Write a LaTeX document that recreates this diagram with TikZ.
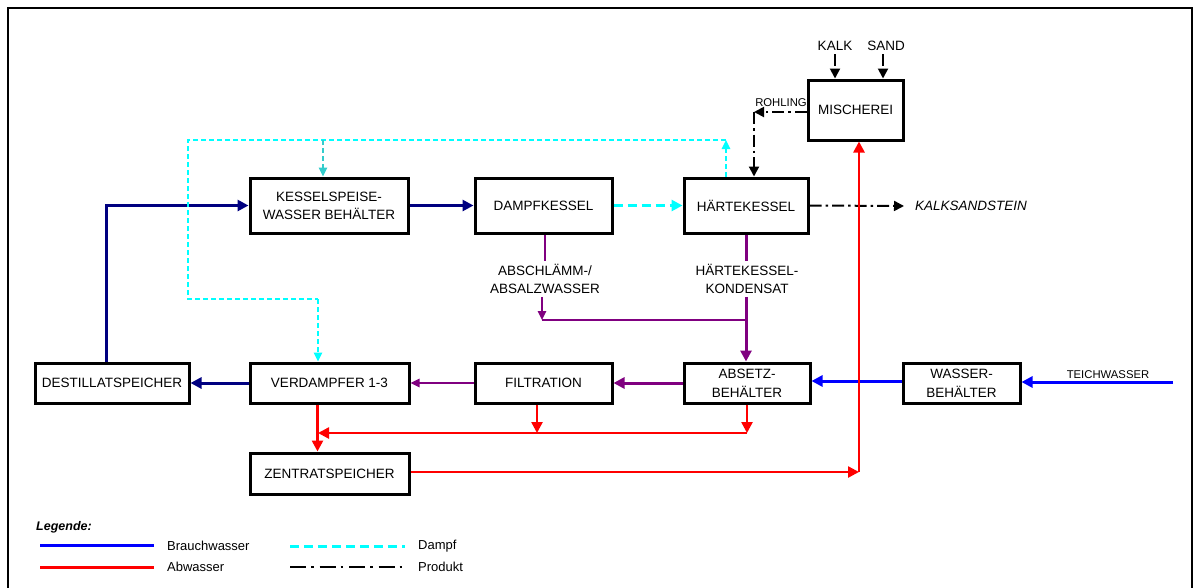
\documentclass[tikz,border=0pt]{standalone}
\usepackage{fontspec}
\setmainfont{Liberation Sans}
\usetikzlibrary{arrows.meta,calc}
\definecolor{cnavy}{HTML}{000080}
\definecolor{cblue}{HTML}{0000FF}
\definecolor{cred}{HTML}{FF0000}
\definecolor{cpurple}{HTML}{800080}
\definecolor{ccyan}{HTML}{00FFFF}
\definecolor{cteal}{HTML}{33CCCC}
\begin{document}
\begin{tikzpicture}[x=1pt,y=-1pt,
  font=\fontsize{13.5}{18}\selectfont,
  box/.style={draw, line width=3pt, align=center, inner sep=2pt},
  lbl/.style={align=center, inner sep=3pt},
  arr/.style={-{Triangle[length=11pt,width=11pt]}},
  sarr/.style={-{Triangle[length=9pt,width=8.5pt]}},
  parr/.style={-{Triangle[length=10pt,width=10pt]}},
  navyline/.style={draw=cnavy, line width=3pt},
  blueline/.style={draw=cblue, line width=3pt},
  redline/.style={draw=cred, line width=2.5pt},
  pthin/.style={draw=cpurple, line width=1.6pt},
  pthick/.style={draw=cpurple, line width=3pt},
  steamthin/.style={draw=ccyan, line width=1.6pt, dash pattern=on 5pt off 3pt},
  steamthick/.style={draw=ccyan, line width=3pt, dash pattern=on 9pt off 5pt},
  prod/.style={draw=black, line width=2pt, dash pattern=on 12pt off 4pt on 2.5pt off 4pt},
  frame/.style={draw=black, line width=2.5pt}
]
\useasboundingbox (0,0) rectangle (1194,587);
\draw[frame] (8,600) -- (8,8) -- (1192,8) -- (1192,600);

% boxes
\node[box, minimum width=158pt, minimum height=55pt] (ksw) at (329,205.5) {KESSELSPEISE-\\WASSER BEHÄLTER};
\node[box, minimum width=137pt, minimum height=55pt] (dk) at (543.5,205.5) {DAMPFKESSEL};
\node[box, minimum width=124pt, minimum height=55pt] (hk) at (746,205.5) {HÄRTEKESSEL};
\node[box, minimum width=95pt, minimum height=60pt] (mi) at (855.5,110) {MISCHEREI};
\node[box, minimum width=154pt, minimum height=40pt] (ds) at (112,383) {DESTILLATSPEICHER};
\node[box, minimum width=159pt, minimum height=40pt] (vd) at (329.5,383) {VERDAMPFER 1-3};
\node[box, minimum width=159pt, minimum height=41pt] (zs) at (329.5,473.5) {ZENTRATSPEICHER};
\node[box, minimum width=137pt, minimum height=40pt] (fi) at (543.5,383) {FILTRATION};
\node[box, minimum width=126pt, minimum height=40pt] (ab) at (747,383) {ABSETZ-\\[1pt]BEHÄLTER};
\node[box, minimum width=117pt, minimum height=40pt] (wb) at (961.5,383) {WASSER-\\[1pt]BEHÄLTER};

% text labels
\node (kalk) at (835,46) {KALK};
\node (sand) at (886,46) {SAND};
\node[font=\fontsize{11.3}{13}\selectfont, inner sep=1pt] (rohl) at (781,103) {ROHLING};
\node[font=\itshape\fontsize{13.5}{18}\selectfont, anchor=west, inner sep=0pt] (kss) at (915,206) {KALKSANDSTEIN};
\node[lbl] (abs) at (545,279) {ABSCHLÄMM-/\\ABSALZWASSER};
\node[lbl] (hkk) at (747,279) {HÄRTEKESSEL-\\KONDENSAT};
\node[font=\fontsize{11.3}{13}\selectfont, inner sep=1pt] (teich) at (1108,375) {TEICHWASSER};

% navy (Brauchwasser intern)
\draw[navyline, arr] ([xshift=-6pt]ds.north) |- (ksw.west);
\draw[navyline, arr] (ksw.east) -- (dk.west);
\draw[navyline, arr] (vd.west) -- (ds.east);

% steam
\draw[steamthick, arr] (dk.east) -- (hk.west);
\coordinate (c1) at (726,140);
\coordinate (c2) at (188,140);
\coordinate (c3) at (188,299);
\coordinate (c4) at (318,299);
\coordinate (c5) at (323,140);
\draw[steamthin, sarr] ([xshift=-20pt]hk.north) -- (c1);
\draw[steamthin] (c1) -- (c2) -- (c3) -- (c4);
\draw[steamthin, sarr] (c4) -- (c4 |- vd.north);
\draw[steamthin, draw=cteal, sarr] (c5) -- (c5 |- ksw.north);

% product
\draw[prod, parr] (kalk.south) -- (kalk.south |- mi.north);
\draw[prod, parr] ([xshift=-3pt]sand.south) -- ([xshift=-3pt]sand.south |- mi.north);
\coordinate (r0) at (754,112);
\draw[prod, parr] (mi.west |- r0) -- (r0);
\draw[prod, parr] (r0) -- (r0 |- hk.north);
\draw[prod, parr] (hk.east) -- ([xshift=-11pt]kss.west);

% purple
\coordinate (j1) at (542,320);
\coordinate (j2) at (746,320);
\draw[pthin] ([xshift=1.5pt]dk.south) -- ([xshift=1.5pt]dk.south |- abs.north);
\draw[pthin, sarr] (j1 |- abs.south) -- (j1);
\draw[pthin] (j1) -- (j2);
\draw[pthick] (hk.south) -- (hk.south |- hkk.north);
\draw[pthick, arr] (hk.south |- hkk.south) -- (hk.south |- ab.north);
\draw[pthick, arr] (ab.west) -- (fi.east);
\draw[pthin, sarr] (fi.west) -- (vd.east);

% blue
\draw[blueline, arr] ([yshift=2pt]wb.west) -- ([yshift=2pt]ab.east);
\coordinate (tw) at (1173,382);
\draw[blueline, arr] (tw) -- (tw -| wb.east);

% red
\coordinate (r1) at (747,433);
\coordinate (r2) at (537,433);
\coordinate (r3) at (318,433);
\coordinate (r4) at (859,472);
\draw[redline, arr] (ab.south) -- (r1);
\draw[redline, arr] ([xshift=-6.5pt]fi.south) -- (r2);
\draw[redline, arr] (r1) -- (r3);
\draw[redline, arr] ([xshift=-12pt]vd.south) -- ([xshift=-12pt]zs.north);
\draw[redline, arr] (zs.east |- r4) -- (r4);
\draw[redline, arr] (r4) -- (r4 |- mi.south);

% legend
\node[font=\bfseries\itshape\fontsize{12.5}{15}\selectfont, anchor=west, inner sep=0pt] (leg) at (36,527) {Legende:};
\coordinate (l1a) at (40,545);
\coordinate (l1b) at (154,545);
\coordinate (l2a) at (40,567);
\coordinate (l2b) at (154,567);
\coordinate (l3a) at (290,546);
\coordinate (l3b) at (405,546);
\coordinate (l4a) at (290,567);
\coordinate (l4b) at (405,567);
\draw[blueline] (l1a) -- (l1b);
\draw[redline, line width=3pt] (l2a) -- (l2b);
\draw[steamthick] (l3a) -- (l3b);
\draw[prod, line width=2.5pt, dash pattern=on 16pt off 5pt on 2.5pt off 6pt] (l4a) -- (l4b);
\node[anchor=west, inner sep=0pt, font=\fontsize{13}{15}\selectfont] (t1) at (167,546) {Brauchwasser};
\node[anchor=west, inner sep=0pt, font=\fontsize{13}{15}\selectfont] (t2) at (167,567) {Abwasser};
\node[anchor=west, inner sep=0pt, font=\fontsize{13}{15}\selectfont] (t3) at (418,546) {Dampf};
\node[anchor=west, inner sep=0pt, font=\fontsize{13}{15}\selectfont] (t4) at (418,567) {Produkt};
\end{tikzpicture}
\end{document}
